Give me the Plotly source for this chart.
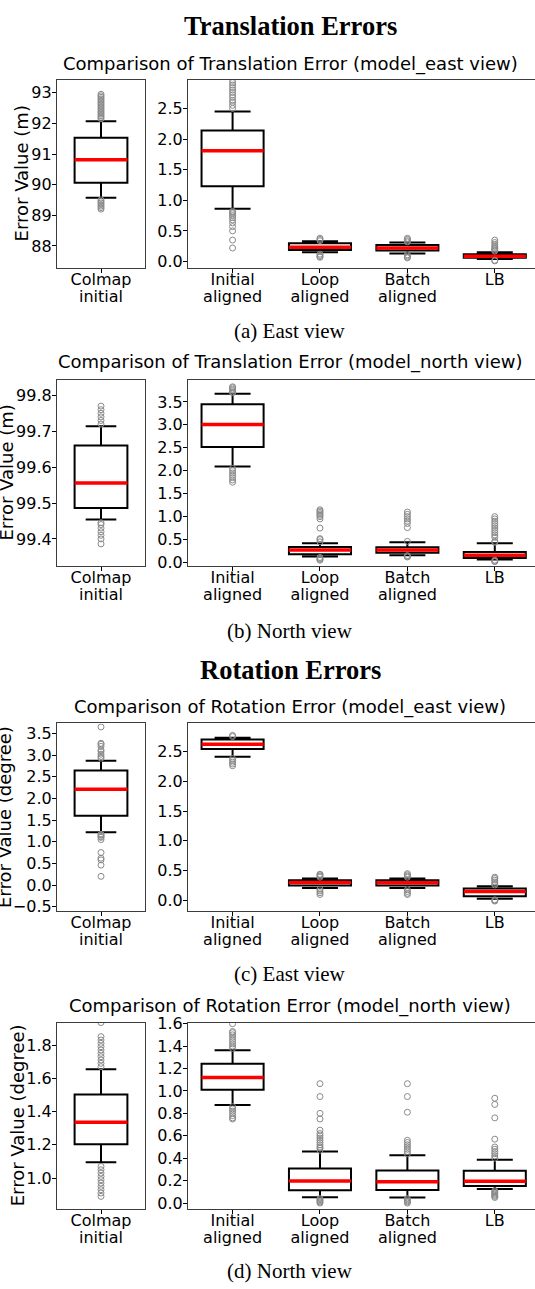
import plotly.graph_objects as go

W, H = 535, 1289

LEFT_LABELS = ["Colmap initial"]
RIGHT_LABELS = ["Initial aligned", "Loop aligned", "Batch aligned", "LB"]

# order of every list: Colmap initial, Initial aligned, Loop aligned, Batch aligned, LB
# (a) Translation error, east view
TE_Q1 = [90.06, 1.23, 0.19, 0.18, 0.06]
TE_MED = [90.81, 1.81, 0.235, 0.22, 0.085]
TE_Q3 = [91.53, 2.14, 0.30, 0.27, 0.12]
TE_LO = [89.57, 0.86, 0.15, 0.13, 0.04]
TE_HI = [92.07, 2.45, 0.33, 0.31, 0.15]
TE_OUT = [
    [92.15, 92.2, 92.25, 92.3, 92.35, 92.4, 92.45, 92.5, 92.55, 92.6, 92.65, 92.7, 92.75, 92.8, 92.85, 92.9, 92.95,
     89.5, 89.45, 89.4, 89.35, 89.3, 89.25, 89.2],
    [2.5, 2.55, 2.6, 2.63, 2.68, 2.72, 2.76, 2.8, 2.84, 2.88, 2.92, 2.96,
     0.82, 0.8, 0.78, 0.75, 0.72, 0.68, 0.63, 0.57, 0.5, 0.35, 0.22],
    [0.34, 0.36, 0.38, 0.12, 0.1, 0.08, 0.07],
    [0.32, 0.34, 0.36, 0.38, 0.11, 0.09, 0.07, 0.06],
    [0.17, 0.19, 0.21, 0.23, 0.25, 0.28, 0.31, 0.35, 0.02, 0.01],
]

# (b) Translation error, north view
TN_Q1 = [99.486, 2.52, 0.18, 0.21, 0.10]
TN_MED = [99.556, 3.01, 0.27, 0.27, 0.16]
TN_Q3 = [99.660, 3.45, 0.34, 0.33, 0.23]
TN_LO = [99.454, 2.09, 0.13, 0.16, 0.065]
TN_HI = [99.714, 3.68, 0.42, 0.44, 0.42]
TN_OUT = [
    [99.72, 99.73, 99.74, 99.75, 99.76, 99.77, 99.445, 99.44, 99.43, 99.42, 99.41, 99.40, 99.386],
    [3.7, 3.72, 3.75, 3.78, 3.81, 3.83, 2.05, 2.0, 1.95, 1.9, 1.85, 1.8, 1.75],
    [0.45, 0.5, 0.52, 0.75, 0.95, 1.0, 1.03, 1.06, 1.09, 1.12, 1.15, 0.11, 0.09, 0.07, 0.05],
    [0.46, 0.76, 0.85, 0.9, 0.95, 1.0, 1.05, 1.1, 0.15, 0.13, 0.12],
    [0.44, 0.46, 0.55, 0.6, 0.65, 0.7, 0.75, 0.8, 0.85, 0.9, 0.95, 1.0, 0.05, 0.03, 0.02],
]

# (c) Rotation error, east view
RE_Q1 = [1.60, 2.54, 0.25, 0.25, 0.07]
RE_MED = [2.21, 2.62, 0.30, 0.295, 0.15]
RE_Q3 = [2.645, 2.70, 0.34, 0.34, 0.20]
RE_LO = [1.22, 2.41, 0.21, 0.21, 0.03]
RE_HI = [2.87, 2.73, 0.37, 0.37, 0.24]
RE_OUT = [
    [2.93, 2.97, 3.02, 3.08, 3.12, 3.2, 3.25, 3.27, 3.65, 1.17, 1.15, 1.12, 1.1, 1.05, 0.75, 0.62, 0.58, 0.46, 0.2],
    [2.75, 2.77, 2.38, 2.35, 2.32, 2.29, 2.26],
    [0.39, 0.41, 0.43, 0.44, 0.19, 0.16, 0.13, 0.1],
    [0.39, 0.41, 0.43, 0.45, 0.18, 0.15, 0.12, 0.1],
    [0.26, 0.28, 0.31, 0.34, 0.37, 0.39, 0.01, 0.0, -0.01],
]

# (d) Rotation error, north view
RN_Q1 = [1.204, 1.01, 0.114, 0.117, 0.153]
RN_MED = [1.335, 1.12, 0.197, 0.191, 0.194]
RN_Q3 = [1.502, 1.242, 0.308, 0.29, 0.288]
RN_LO = [1.095, 0.875, 0.053, 0.05, 0.126]
RN_HI = [1.655, 1.362, 0.461, 0.426, 0.387]
RN_OUT = [
    [1.67, 1.69, 1.71, 1.73, 1.75, 1.77, 1.79, 1.81, 1.83, 1.85, 1.935,
     1.07, 1.05, 1.03, 1.01, 0.99, 0.97, 0.95, 0.93, 0.91, 0.89],
    [1.38, 1.4, 1.42, 1.44, 1.46, 1.48, 1.5, 1.52, 1.53, 1.6, 0.86, 0.84, 0.82, 0.8, 0.78, 0.76, 0.75],
    [0.47, 0.49, 0.5, 0.52, 0.54, 0.56, 0.58, 0.6, 0.62, 0.65, 0.75, 0.8, 0.95, 1.065, 0.04, 0.03, 0.02, 0.01, 0.0],
    [0.44, 0.46, 0.48, 0.5, 0.52, 0.54, 0.56, 0.81, 0.95, 1.065, 0.04, 0.03, 0.02, 0.01, 0.0],
    [0.4, 0.42, 0.44, 0.46, 0.48, 0.5, 0.57, 0.76, 0.88, 0.935, 0.11, 0.1, 0.09, 0.08, 0.07, 0.06, 0.05],
]

PANELS = [
    dict(q1=TE_Q1, med=TE_MED, q3=TE_Q3, lo=TE_LO, hi=TE_HI, out=TE_OUT,
         title="Comparison of Translation Error (model_east view)", ytitle="Error Value (m)",
         top=73, bottom=262.5, lrange=[87.29, 93.41], rrange=[-0.10, 2.96],
         ltick=[88, 89, 90, 91, 92, 93], lfmt="d", rtick=[0, 0.5, 1, 1.5, 2, 2.5],
         title_y=56.5, ytitle_x=21.5, cap="(a) East view", cap_y=327),
    dict(q1=TN_Q1, med=TN_MED, q3=TN_Q3, lo=TN_LO, hi=TN_HI, out=TN_OUT,
         title="Comparison of Translation Error (model_north view)", ytitle="Error Value (m)",
         top=376, bottom=564.3, lrange=[99.324, 99.843], rrange=[-0.08, 3.98],
         ltick=[99.4, 99.5, 99.6, 99.7, 99.8], lfmt=".1f", rtick=[0, 0.5, 1, 1.5, 2, 2.5, 3, 3.5],
         title_y=358, ytitle_x=6.5, cap="(b) North view", cap_y=630),
    dict(q1=RE_Q1, med=RE_MED, q3=RE_Q3, lo=RE_LO, hi=RE_HI, out=RE_OUT,
         title="Comparison of Rotation Error (model_east view)", ytitle="Error Value (degree)",
         top=723.3, bottom=912.5, lrange=[-0.59, 3.73], rrange=[-0.17, 2.97],
         ltick=[-0.5, 0, 0.5, 1, 1.5, 2, 2.5, 3, 3.5], lfmt=".1f", rtick=[0, 0.5, 1, 1.5, 2, 2.5],
         title_y=707, ytitle_x=4, cap="(c) East view", cap_y=977),
    dict(q1=RN_Q1, med=RN_MED, q3=RN_Q3, lo=RN_LO, hi=RN_HI, out=RN_OUT,
         title="Comparison of Rotation Error (model_north view)", ytitle="Error Value (degree)",
         top=1025.7, bottom=1214.2, lrange=[0.814, 1.935], rrange=[-0.053, 1.61],
         ltick=[1.0, 1.2, 1.4, 1.6, 1.8], lfmt=".1f", rtick=[0, 0.2, 0.4, 0.6, 0.8, 1.0, 1.2, 1.4, 1.6],
         title_y=1009, ytitle_x=17.5, cap="(d) North view", cap_y=1277),
]

SANS = "DejaVu Sans"
SERIF = "Liberation Serif"
SPINE = "#3c3c3c"
TICKFONT = dict(family=SANS, size=16, color="black")
LINE_GAP = 17   # px between the two lines of a category label
X_STANDOFF = -7


def py(px):
    return 1 - px / H


def px_(x):
    return x / W


def split_labels(labels):
    first = [s.split(" ", 1)[0] for s in labels]
    second = [s.split(" ", 1)[1] if " " in s else "" for s in labels]
    return first, second


fig = go.Figure()
layout = dict(
    width=W, height=H, margin=dict(l=0, r=0, t=0, b=0),
    paper_bgcolor="white", plot_bgcolor="white", showlegend=False,
    boxmode="overlay", annotations=[],
)

L1, L2 = split_labels(LEFT_LABELS)
R1, R2 = split_labels(RIGHT_LABELS)

for p, P in enumerate(PANELS):
    li, ri = 2 * p + 1, 2 * p + 2
    for i in range(5):
        ax = li if i == 0 else ri
        xpos = 0 if i == 0 else i - 1
        bw = 0.6 if i == 0 else 0.71
        xa, ya = f"x{ax}", f"y{ax}"
        fig.add_trace(go.Box(
            x=[xpos], q1=[P["q1"][i]], median=[P["med"][i]], q3=[P["q3"][i]],
            lowerfence=[P["lo"][i]], upperfence=[P["hi"][i]],
            width=bw, whiskerwidth=0.58, boxpoints=False,
            line=dict(color="black", width=2), fillcolor="rgba(255,255,255,0)",
            xaxis=xa, yaxis=ya, hoverinfo="skip"))
        m = P["med"][i]
        fig.add_trace(go.Box(
            x=[xpos], q1=[m], median=[m], q3=[m], lowerfence=[m], upperfence=[m],
            width=bw, whiskerwidth=0, boxpoints=False,
            line=dict(color="#ff0000", width=3.5), fillcolor="#ff0000",
            xaxis=xa, yaxis=ya, hoverinfo="skip"))
        outs = P["out"][i]
        fig.add_trace(go.Scatter(
            x=[xpos] * len(outs), y=outs, mode="markers",
            marker=dict(symbol="circle-open", size=6, color="#8a8a8a", line=dict(width=1)),
            xaxis=xa, yaxis=ya, hoverinfo="skip"))

    ydom = [py(P["bottom"]), py(P["top"])]
    common_y = dict(showgrid=False, zeroline=False, showline=True, linecolor=SPINE, linewidth=1.2,
                    ticks="outside", ticklen=4, tickcolor="black", tickwidth=1,
                    tickfont=TICKFONT, ticklabelstandoff=-3, domain=ydom)
    common_x = dict(showgrid=False, zeroline=False, showline=True, linecolor=SPINE, linewidth=1.2,
                    mirror=True, ticks="outside", ticklen=4, tickcolor="black", tickwidth=1,
                    tickfont=TICKFONT, ticklabelstandoff=X_STANDOFF)
    ldom, rdom = [px_(57), px_(145)], [px_(188), 1.0]
    lxr, rxr = [-0.5, 0.5], [-0.51, 3.46]
    layout[f"xaxis{li}"] = dict(common_x, domain=ldom, range=lxr,
                                tickvals=[0], ticktext=L1, anchor=f"y{li}")
    layout[f"yaxis{li}"] = dict(common_y, range=P["lrange"], tickvals=P["ltick"], tickformat=P["lfmt"],
                                mirror=True, anchor=f"x{li}")
    layout[f"xaxis{ri}"] = dict(common_x, domain=rdom, range=rxr,
                                tickvals=[0, 1, 2, 3], ticktext=R1, anchor=f"y{ri}")
    layout[f"yaxis{ri}"] = dict(common_y, range=P["rrange"], tickvals=P["rtick"], tickformat=".1f",
                                mirror=False, anchor=f"x{ri}")

    # second line of the category labels on overlaying axes
    for base, rng, vals, txt in [(li, lxr, [0], L2), (ri, rxr, [0, 1, 2, 3], R2)]:
        oid = base + 8
        layout[f"xaxis{oid}"] = dict(overlaying=f"x{base}", anchor=f"y{base}", side="bottom",
                                     range=rng, tickvals=vals, ticktext=txt, showgrid=False,
                                     zeroline=False, showline=False, ticks="outside", ticklen=4,
                                     tickcolor="rgba(0,0,0,0)", tickfont=TICKFONT,
                                     ticklabelstandoff=X_STANDOFF + LINE_GAP)
        fig.add_trace(go.Scatter(x=[], y=[], xaxis=f"x{oid}", yaxis=f"y{base}",
                                 mode="markers", hoverinfo="skip"))

    layout["annotations"].append(dict(
        text=P["title"], x=px_(290), y=py(P["title_y"]), xref="paper", yref="paper",
        xanchor="center", yanchor="middle", showarrow=False,
        font=dict(family=SANS, size=18, color="black")))
    layout["annotations"].append(dict(
        text=P["ytitle"], x=px_(P["ytitle_x"]), y=py((P["top"] + P["bottom"]) / 2),
        xref="paper", yref="paper", xanchor="center", yanchor="middle", textangle=-90,
        showarrow=False, font=dict(family=SANS, size=18, color="black")))
    layout["annotations"].append(dict(
        text=P["cap"], x=px_(290), y=py(P["cap_y"]), xref="paper", yref="paper",
        xanchor="center", yanchor="middle", showarrow=False,
        font=dict(family=SERIF, size=21, color="black")))

for txt, yy in [("<b>Translation Errors</b>", 18), ("<b>Rotation Errors</b>", 669)]:
    layout["annotations"].append(dict(
        text=txt, x=px_(290), y=py(yy), xref="paper", yref="paper",
        xanchor="center", yanchor="middle", showarrow=False,
        font=dict(family=SERIF, size=26.5, color="black")))

fig.update_layout(**layout)
fig.write_html("out.html", config={"displayModeBar": False},
               post_script="document.body.style.margin='0';document.body.style.overflow='hidden';")
